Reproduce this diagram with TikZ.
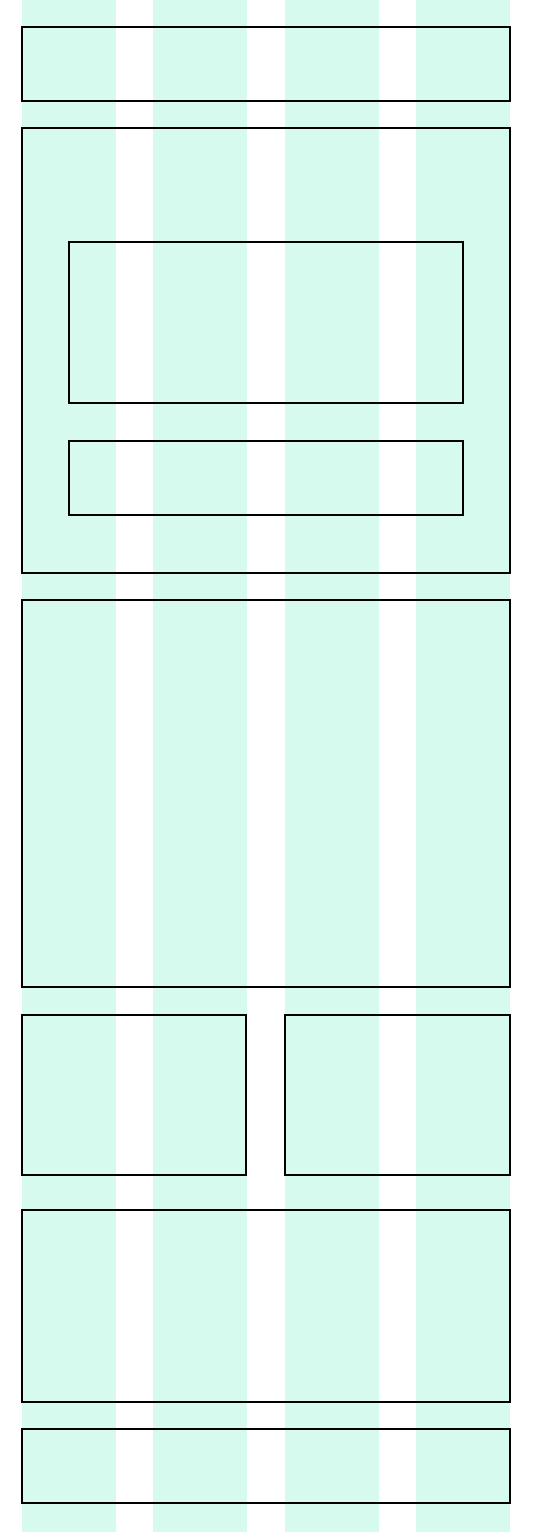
\documentclass[tikz,border=0pt]{standalone}
\usepackage{tikz}
\usetikzlibrary{calc}
\usepackage{xcolor}
\definecolor{gutter}{RGB}{214,250,238}

\tikzset{
  panel/.style={draw=black, line width=1pt},
}

\begin{document}
\begin{tikzpicture}[x=0.5pt, y=-0.5pt]
\useasboundingbox (0,0) rectangle (534,1532);
% columns
\foreach \cx in {22,153,285,416}
  \fill [gutter] (\cx,0) rectangle ++(94,1532);
% header
\draw [panel] (22,27) coordinate (header) rectangle (510,101);
% hero block with its two inner boxes
\draw [panel] (22,128) coordinate (hero) rectangle (510,573);
\draw [panel] (69,242) coordinate (media) rectangle (463,403);
\draw [panel] (69,441) coordinate (caption) rectangle (463,515);
% main content
\draw [panel] (22,600) coordinate (content) rectangle (510,987);
% two half-width cards
\draw [panel] (22,1015) coordinate (cardL) rectangle (246,1175);
\draw [panel] (285,1015) coordinate (cardR) rectangle (510,1175);
% lower block
\draw [panel] (22,1210) coordinate (lower) rectangle (510,1402);
% footer
\draw [panel] (22,1429) coordinate (footer) rectangle (510,1503);
\end{tikzpicture}
\end{document}
